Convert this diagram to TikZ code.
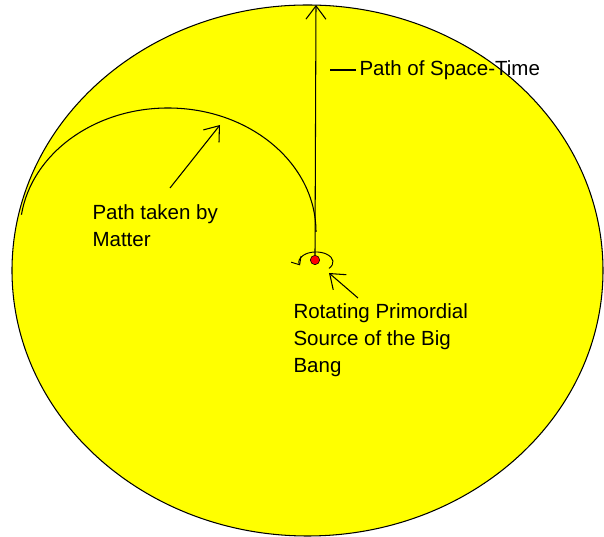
\documentclass[tikz,border=0pt]{standalone}
\usepackage{fontspec}
\setmainfont{Liberation Sans}
\usetikzlibrary{arrows.meta}
\definecolor{sun}{HTML}{FFFF00}
\definecolor{core}{HTML}{FF0000}

\begin{document}
\begin{tikzpicture}[x=0.03cm, y=0.03cm, line width=0.9pt,
    font=\fontsize{17.5}{23}\selectfont, every node/.style={align=left, inner sep=0pt},
    barb/.style={-{Straight Barb[length=4mm, width=6mm]}}]
    \useasboundingbox (0,0) rectangle (604,537);
    % the universe
    \draw[fill=sun] (307.5,266.5) ellipse [x radius=295.5, y radius=265.5];
    \node[circle, fill=core, draw=black, line width=0.5pt, minimum size=0.28cm] (source) at (315,277) {};
    \coordinate (top) at (316,532);
    \draw[barb] (source.north) -- (top);
    % path of matter
    \coordinate (bend) at (316,305);
    \draw (bend) arc[start angle=0, end angle=172, x radius=148, y radius=124];
    % rotation round the source
    \coordinate (spin) at (329,268.6);
    \draw[-{Straight Barb[length=2mm, width=3.5mm]}, line width=0.8pt] (spin) arc[start angle=-40, end angle=200, x radius=17, y radius=10];
    % labels
    \node[anchor=west] (matter) at (92,311) {Path taken by\\Matter};
    \coordinate (mtail) at (170,349);
    \coordinate (mtip) at (220,412);
    \draw[barb] (mtail) -- (mtip);
    \node[anchor=west] (spacetime) at (359,467) {Path of Space-Time};
    \coordinate (stlead) at (330,467);
    \draw (stlead) -- ([xshift=-0.1cm]spacetime.west);
    \node[anchor=north west] (srclabel) at (293,234) {Rotating Primordial\\Source of the Big\\Bang};
    \coordinate (stail) at (358,239);
    \coordinate (stip) at (329,264);
    \draw[barb] (stail) -- (stip);
  \end{tikzpicture}
\end{document}
